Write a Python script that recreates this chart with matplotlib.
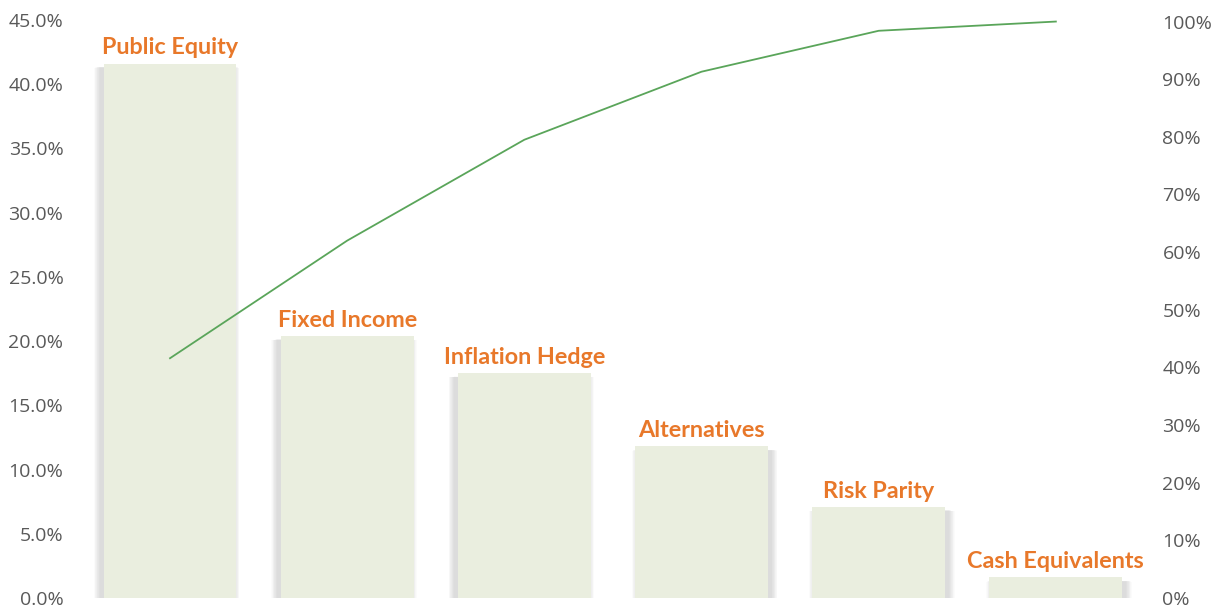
import matplotlib
import numpy as np

matplotlib.use("Agg")
import matplotlib.pyplot as plt
from matplotlib.patches import Rectangle
from matplotlib.ticker import FuncFormatter

categories = ["Public Equity", "Fixed Income", "Inflation Hedge", "Alternatives",
              "Risk Parity", "Cash Equivalents"]
weights = [41.6, 20.4, 17.5, 11.8, 7.1, 1.6]  # % of portfolio

BAR_COLOR = "#EAEEDF"
LINE_COLOR = "#5AA55A"
LABEL_COLOR = "#E8782A"
TICK_COLOR = "#595959"

w = np.array(weights)
cum = np.cumsum(w) / w.sum() * 100
x = np.arange(len(categories))
width = 0.75

fig = plt.figure(figsize=(12.21, 6.08), dpi=100)
ax = fig.add_axes([0.0667, 0.0164, 0.8706, 0.951])
ax2 = ax.twinx()

# soft drop shadow, pushed outward from the centre of the chart
for i, h in enumerate(w):
    side = -1 if i < len(w) / 2 else 1
    for k in range(10):
        grow = 0.0035 * (k + 1)
        ax.add_patch(Rectangle((x[i] - width / 2 + side * 0.018 - grow, -0.3 - grow * 5),
                               width + 2 * grow, h + 0.05 + grow * 3,
                               facecolor="#808080", edgecolor="none", alpha=0.028, zorder=1))
ax.bar(x, w, width, color=BAR_COLOR, edgecolor="none", zorder=2)

for xi, h, name in zip(x, w, categories):
    ax.text(xi, h + 0.4, name, ha="center", va="bottom", color=LABEL_COLOR,
            fontsize=16.8, fontweight="bold", family=["Lato", "DejaVu Sans"], zorder=3)

ax2.plot(x, cum, color=LINE_COLOR, linewidth=1.3, zorder=4)

ax.set_xlim(-0.5, len(categories) - 0.5)
ax.set_ylim(0, 45)
ax.set_yticks(np.arange(0, 46, 5))
ax.yaxis.set_major_formatter(FuncFormatter(lambda v, _: f"{v:.1f}%"))
ax2.set_ylim(0, 100.3)
ax2.set_yticks(np.arange(0, 101, 10))
ax2.yaxis.set_major_formatter(FuncFormatter(lambda v, _: f"{v:.0f}%"))
ax.set_xticks([])

for a in (ax, ax2):
    for s in a.spines.values():
        s.set_visible(False)
    a.tick_params(axis="y", length=0, labelsize=14, labelcolor=TICK_COLOR, pad=13)
    for t in a.get_yticklabels():
        t.set_fontfamily(["Open Sans", "DejaVu Sans"])

ax.set_zorder(ax2.get_zorder() - 1)
ax2.patch.set_visible(False)
ax.patch.set_visible(False)

fig.savefig("out.png", dpi=100, facecolor="white")
